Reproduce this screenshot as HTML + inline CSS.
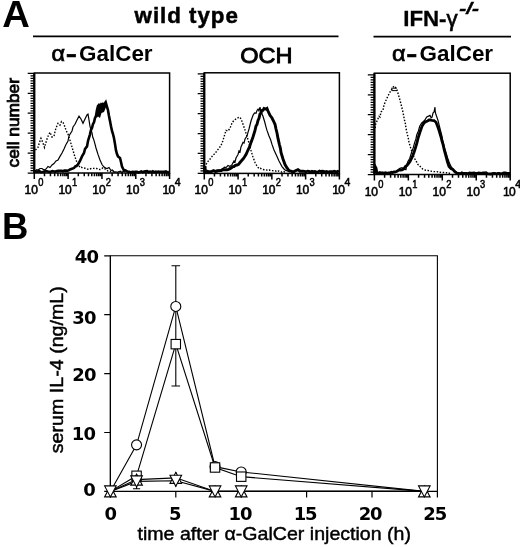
<!DOCTYPE html>
<html><head><meta charset="utf-8"><title>Figure</title>
<style>html,body{margin:0;padding:0;background:#fff}svg{display:block}text{fill:#000}</style>
</head><body>
<svg width="520" height="547" viewBox="0 0 520 547">
<rect width="520" height="547" fill="#fff"/>
<text x="2.2" y="27.1" font-size="36.5" font-weight="bold" text-anchor="start" font-family="Liberation Sans, sans-serif" textLength="27.6" lengthAdjust="spacingAndGlyphs" >A</text>
<text x="2.0" y="239" font-size="36.5" font-weight="bold" text-anchor="start" font-family="Liberation Sans, sans-serif" >B</text>
<line x1="33" y1="36.4" x2="338.5" y2="36.4" stroke="#000" stroke-width="1.8"/>
<line x1="373.5" y1="36.6" x2="511" y2="36.6" stroke="#000" stroke-width="1.8"/>
<text x="134.6" y="22.7" font-size="22.3" font-weight="bold" font-family="Liberation Sans, sans-serif" textLength="103.2" lengthAdjust="spacing" stroke="#000" stroke-width="0.5">wild type</text>
<text x="403.2" y="26.2" font-size="21.5" font-weight="bold" font-family="Liberation Sans, sans-serif" textLength="54.5" lengthAdjust="spacingAndGlyphs" stroke="#000" stroke-width="0.3">IFN-<tspan font-weight="normal" stroke-width="0.6">γ</tspan></text>
<text x="459.3" y="13.8" font-size="17" font-weight="bold" font-style="italic" font-family="Liberation Sans, sans-serif" textLength="19.5" lengthAdjust="spacingAndGlyphs" stroke="#000" stroke-width="0.5">-/-</text>
<text x="51.4" y="61.2" font-size="22" font-family="Liberation Sans, sans-serif" textLength="13.6" lengthAdjust="spacingAndGlyphs" stroke="#000" stroke-width="0.7">α</text>
<text x="66.1" y="61.2" font-size="22" font-weight="bold" font-family="Liberation Sans, sans-serif" textLength="10.6" lengthAdjust="spacingAndGlyphs" stroke="#000" stroke-width="0.7">-</text>
<text x="79.0" y="61.2" font-size="22.3" font-weight="bold" font-family="Liberation Sans, sans-serif" textLength="73.6" lengthAdjust="spacingAndGlyphs">GalCer</text>
<text x="391.90000000000003" y="61.2" font-size="22" font-family="Liberation Sans, sans-serif" textLength="13.6" lengthAdjust="spacingAndGlyphs" stroke="#000" stroke-width="0.7">α</text>
<text x="406.6" y="61.2" font-size="22" font-weight="bold" font-family="Liberation Sans, sans-serif" textLength="10.6" lengthAdjust="spacingAndGlyphs" stroke="#000" stroke-width="0.7">-</text>
<text x="419.5" y="61.2" font-size="22.3" font-weight="bold" font-family="Liberation Sans, sans-serif" textLength="73.6" lengthAdjust="spacingAndGlyphs">GalCer</text>
<text x="240.2" y="63" font-size="22.5" font-weight="normal" text-anchor="start" font-family="Liberation Sans, sans-serif" textLength="52.3" lengthAdjust="spacingAndGlyphs" stroke="#000" stroke-width="0.9">OCH</text>
<rect x="34.3" y="73" width="135.3" height="100" fill="none" stroke="#000" stroke-width="1.5"/>
<path d="M27.70 173.00H34.3 M30.50 170.51H34.3 M30.50 168.02H34.3 M30.50 165.53H34.3 M30.50 163.04H34.3 M30.50 160.55H34.3 M30.50 158.06H34.3 M30.50 155.57H34.3 M27.70 153.08H34.3 M30.50 150.59H34.3 M30.50 148.10H34.3 M30.50 145.61H34.3 M30.50 143.12H34.3 M30.50 140.63H34.3 M30.50 138.14H34.3 M30.50 135.65H34.3 M27.70 133.16H34.3 M30.50 130.67H34.3 M30.50 128.18H34.3 M30.50 125.69H34.3 M30.50 123.20H34.3 M30.50 120.71H34.3 M30.50 118.22H34.3 M30.50 115.73H34.3 M27.70 113.24H34.3 M30.50 110.75H34.3 M30.50 108.26H34.3 M30.50 105.77H34.3 M30.50 103.28H34.3 M30.50 100.79H34.3 M30.50 98.30H34.3 M30.50 95.81H34.3 M27.70 93.32H34.3 M30.50 90.83H34.3 M30.50 88.34H34.3 M30.50 85.85H34.3 M30.50 83.36H34.3 M30.50 80.87H34.3 M30.50 78.38H34.3 M30.50 75.89H34.3 M27.70 73.40H34.3" stroke="#000" stroke-width="1.25" fill="none"/>
<line x1="34.3" y1="73" x2="34.3" y2="173" stroke="#000" stroke-width="2.2"/>
<path d="M34.30 173v6 M44.48 173v3.2 M50.44 173v3.2 M54.66 173v3.2 M57.94 173v3.2 M60.62 173v3.2 M62.89 173v3.2 M64.85 173v3.2 M66.58 173v3.2 M68.12 173v6 M78.31 173v3.2 M84.26 173v3.2 M88.49 173v3.2 M91.77 173v3.2 M94.45 173v3.2 M96.71 173v3.2 M98.67 173v3.2 M100.40 173v3.2 M101.95 173v6 M112.13 173v3.2 M118.09 173v3.2 M122.31 173v3.2 M125.59 173v3.2 M128.27 173v3.2 M130.54 173v3.2 M132.50 173v3.2 M134.23 173v3.2 M135.78 173v6 M145.96 173v3.2 M151.91 173v3.2 M156.14 173v3.2 M159.42 173v3.2 M162.10 173v3.2 M164.36 173v3.2 M166.32 173v3.2 M168.05 173v3.2 M169.60 173v6" stroke="#000" stroke-width="1.5" fill="none"/>
<text x="24.60" y="193.80" font-size="12" font-family="Liberation Sans, sans-serif" stroke="#000" stroke-width="0.55">10<tspan font-size="11.5" dy="-7.8" dx="0.2" textLength="5.2" lengthAdjust="spacingAndGlyphs">0</tspan></text>
<text x="58.42" y="193.80" font-size="12" font-family="Liberation Sans, sans-serif" stroke="#000" stroke-width="0.55">10<tspan font-size="11.5" dy="-7.8" dx="0.2" textLength="5.2" lengthAdjust="spacingAndGlyphs">1</tspan></text>
<text x="92.25" y="193.80" font-size="12" font-family="Liberation Sans, sans-serif" stroke="#000" stroke-width="0.55">10<tspan font-size="11.5" dy="-7.8" dx="0.2" textLength="5.2" lengthAdjust="spacingAndGlyphs">2</tspan></text>
<text x="126.08" y="193.80" font-size="12" font-family="Liberation Sans, sans-serif" stroke="#000" stroke-width="0.55">10<tspan font-size="11.5" dy="-7.8" dx="0.2" textLength="5.2" lengthAdjust="spacingAndGlyphs">3</tspan></text>
<text x="162.50" y="193.80" font-size="12" font-family="Liberation Sans, sans-serif" stroke="#000" stroke-width="0.55" letter-spacing="-0.7">10<tspan font-size="11.5" dy="-7.8" dx="0.2" textLength="5.2" lengthAdjust="spacingAndGlyphs">4</tspan></text>
<polyline points="35.5,150.0 36.6,148.5 38.0,147.4 39.3,143.0 41.0,138.3 43.0,143.0 44.5,147.4 45.7,143.2 47.0,139.0 48.5,135.1 50.0,132.3 52.0,137.0 54.0,136.3 55.0,131.6 56.0,128.0 58.0,123.3 60.0,125.0 61.5,121.5 63.0,122.3 65.0,127.0 66.0,130.3 68.0,134.0 70.0,140.4 71.4,144.9 73.0,150.4 75.0,157.0 77.0,162.5 78.6,164.9 80.0,167.5 81.2,167.2 82.8,168.0 84.0,168.0 85.5,168.3 86.8,169.1 88.4,169.2 90.0,169.0 91.5,168.4 93.4,168.4 95.0,168.5 96.7,168.5 98.3,169.3 100.0,169.5 101.2,169.1 102.6,168.0 104.0,168.0 105.3,169.2 106.7,169.8 108.0,171.0 109.3,171.1 110.9,171.7 112.2,171.2 113.7,171.7 115.0,171.8" fill="none" stroke="#000" stroke-width="1.4" stroke-linejoin="miter" stroke-dasharray="1.5 1.6" />
<polyline points="35.0,171.0 36.7,169.7 38.0,170.0 40.0,168.5 42.0,168.5 44.0,170.0 46.0,169.0 48.0,166.5 50.0,167.5 52.0,165.0 54.0,163.5 56.0,161.0 58.0,160.0 60.0,156.4 62.0,153.0 64.0,149.0 66.0,144.4 68.0,141.0 69.0,136.0 70.0,134.3 72.0,131.0 73.0,127.0 75.0,124.3 77.0,120.0 79.0,116.2 81.0,119.0 83.0,123.3 85.0,119.0 87.0,115.0 88.0,114.2 89.0,120.0 90.0,126.3 92.0,133.0 92.8,137.3 94.0,140.4 95.0,144.2 96.0,148.0 98.0,154.4 100.0,160.0 102.0,164.5 104.0,167.0 105.7,168.1 107.0,168.5 109.0,167.5 111.0,170.5 112.4,170.0 114.3,172.1 116.0,171.8 117.2,172.4 119.1,171.7 120.8,171.3 121.7,172.8 123.5,170.9 125.0,172.0" fill="none" stroke="#000" stroke-width="1.2" stroke-linejoin="miter" />
<polyline points="35.0,171.8 36.3,171.5 37.8,171.6 39.3,171.2 40.9,172.2 42.1,172.0 43.6,171.7 45.0,171.3 46.7,171.3 48.0,171.6 49.6,171.9 50.9,171.8 52.5,171.1 54.1,171.5 55.4,171.6 57.1,171.1 58.4,170.9 60.0,170.8 61.4,170.7 63.1,171.2 64.4,170.6 66.0,170.5 67.4,170.7 68.8,170.3 70.0,169.5 71.3,169.0 72.6,168.6 74.0,168.0 75.3,166.4 76.5,166.0 78.0,164.5 80.0,161.0 82.0,156.4 84.0,153.0 85.0,149.0 87.0,146.4 88.0,141.0 90.0,134.3 91.0,130.0 92.0,128.0 93.0,124.0 94.0,122.3 95.0,118.0 96.0,116.0 97.0,110.0 98.0,106.2 99.0,105.0 100.0,106.0 101.0,104.5 102.0,106.0 103.0,104.0 104.0,104.5 105.0,103.2 105.7,102.2 106.5,105.0 108.0,110.2 109.0,116.0 110.0,121.0 111.0,126.3 112.0,131.0 113.0,134.0 114.0,138.3 115.0,144.0 116.0,150.4 117.0,154.0 118.0,156.4 120.0,158.0 121.0,162.0 122.0,166.5 124.0,170.5 125.4,170.4 126.7,171.1 128.0,171.8 129.4,171.8 130.9,172.4 132.4,171.8 133.9,172.1 135.6,171.8 137.0,171.7 138.4,172.5 140.0,172.0 141.3,171.4 142.9,172.2 144.2,171.6 145.7,171.4 147.2,171.2 148.7,172.2 150.0,171.7 151.6,172.0 152.8,171.2 154.4,172.3 155.9,171.7 157.3,172.0 158.5,171.6 160.0,171.9 161.4,171.8 163.2,171.8 164.3,171.7 165.9,171.4 167.5,172.3 169.0,172.0" fill="none" stroke="#000" stroke-width="2.6" stroke-linejoin="miter" />
<path d="M96.5 118 L97.5 105.5 L100 104 L102 105.5 L103 103.5 L105.7 102 L106.5 106 L104 112 L101.5 113 L100 118 L98 116.5 Z" fill="#000"/>
<rect x="204.3" y="72.8" width="135.09999999999997" height="100.60000000000001" fill="none" stroke="#000" stroke-width="1.5"/>
<path d="M197.70 173.40H204.3 M200.50 170.91H204.3 M200.50 168.42H204.3 M200.50 165.93H204.3 M200.50 163.44H204.3 M200.50 160.95H204.3 M200.50 158.46H204.3 M200.50 155.97H204.3 M197.70 153.48H204.3 M200.50 150.99H204.3 M200.50 148.50H204.3 M200.50 146.01H204.3 M200.50 143.52H204.3 M200.50 141.03H204.3 M200.50 138.54H204.3 M200.50 136.05H204.3 M197.70 133.56H204.3 M200.50 131.07H204.3 M200.50 128.58H204.3 M200.50 126.09H204.3 M200.50 123.60H204.3 M200.50 121.11H204.3 M200.50 118.62H204.3 M200.50 116.13H204.3 M197.70 113.64H204.3 M200.50 111.15H204.3 M200.50 108.66H204.3 M200.50 106.17H204.3 M200.50 103.68H204.3 M200.50 101.19H204.3 M200.50 98.70H204.3 M200.50 96.21H204.3 M197.70 93.72H204.3 M200.50 91.23H204.3 M200.50 88.74H204.3 M200.50 86.25H204.3 M200.50 83.76H204.3 M200.50 81.27H204.3 M200.50 78.78H204.3 M200.50 76.29H204.3 M197.70 73.80H204.3" stroke="#000" stroke-width="1.25" fill="none"/>
<line x1="204.3" y1="72.8" x2="204.3" y2="173.4" stroke="#000" stroke-width="2.2"/>
<path d="M204.30 173.4v6 M214.47 173.4v3.2 M220.41 173.4v3.2 M224.63 173.4v3.2 M227.91 173.4v3.2 M230.58 173.4v3.2 M232.84 173.4v3.2 M234.80 173.4v3.2 M236.53 173.4v3.2 M238.07 173.4v6 M248.24 173.4v3.2 M254.19 173.4v3.2 M258.41 173.4v3.2 M261.68 173.4v3.2 M264.36 173.4v3.2 M266.62 173.4v3.2 M268.58 173.4v3.2 M270.30 173.4v3.2 M271.85 173.4v6 M282.02 173.4v3.2 M287.96 173.4v3.2 M292.18 173.4v3.2 M295.46 173.4v3.2 M298.13 173.4v3.2 M300.39 173.4v3.2 M302.35 173.4v3.2 M304.08 173.4v3.2 M305.62 173.4v6 M315.79 173.4v3.2 M321.74 173.4v3.2 M325.96 173.4v3.2 M329.23 173.4v3.2 M331.91 173.4v3.2 M334.17 173.4v3.2 M336.13 173.4v3.2 M337.85 173.4v3.2 M339.40 173.4v6" stroke="#000" stroke-width="1.5" fill="none"/>
<text x="194.60" y="194.20" font-size="12" font-family="Liberation Sans, sans-serif" stroke="#000" stroke-width="0.55">10<tspan font-size="11.5" dy="-7.8" dx="0.2" textLength="5.2" lengthAdjust="spacingAndGlyphs">0</tspan></text>
<text x="228.38" y="194.20" font-size="12" font-family="Liberation Sans, sans-serif" stroke="#000" stroke-width="0.55">10<tspan font-size="11.5" dy="-7.8" dx="0.2" textLength="5.2" lengthAdjust="spacingAndGlyphs">1</tspan></text>
<text x="262.15" y="194.20" font-size="12" font-family="Liberation Sans, sans-serif" stroke="#000" stroke-width="0.55">10<tspan font-size="11.5" dy="-7.8" dx="0.2" textLength="5.2" lengthAdjust="spacingAndGlyphs">2</tspan></text>
<text x="295.93" y="194.20" font-size="12" font-family="Liberation Sans, sans-serif" stroke="#000" stroke-width="0.55">10<tspan font-size="11.5" dy="-7.8" dx="0.2" textLength="5.2" lengthAdjust="spacingAndGlyphs">3</tspan></text>
<text x="332.30" y="194.20" font-size="12" font-family="Liberation Sans, sans-serif" stroke="#000" stroke-width="0.55" letter-spacing="-0.7">10<tspan font-size="11.5" dy="-7.8" dx="0.2" textLength="5.2" lengthAdjust="spacingAndGlyphs">4</tspan></text>
<polyline points="205.0,170.6 206.0,165.0 207.0,162.5 208.4,160.9 209.5,160.0 210.8,157.8 212.0,156.5 213.2,154.8 214.5,154.0 215.6,152.8 217.0,150.5 219.0,148.5 220.5,146.1 222.0,143.4 224.0,137.0 226.0,130.4 228.0,131.0 230.0,128.3 232.0,123.0 234.0,120.3 235.5,119.3 237.0,118.5 238.6,117.5 240.0,117.3 241.5,120.0 243.0,124.3 245.0,130.0 247.0,136.4 249.0,143.0 249.9,146.3 251.0,150.5 253.0,157.0 255.0,162.5 257.0,166.0 259.0,168.6 260.2,168.3 261.8,169.1 263.0,169.5 264.5,169.7 266.5,169.9 268.0,170.6 269.5,170.1 271.1,170.6 272.6,170.6 274.0,170.8 275.7,171.0 277.3,171.7 278.7,171.0 280.5,171.6 281.9,172.2 283.4,171.4 284.7,172.0 286.0,172.0" fill="none" stroke="#000" stroke-width="1.4" stroke-linejoin="miter" stroke-dasharray="1.5 1.6" />
<polyline points="205.0,171.6 206.7,172.4 207.6,170.5 209.3,171.9 210.5,171.5 212.0,171.0 213.6,171.0 214.8,170.7 216.4,170.1 218.0,170.0 219.6,170.1 220.7,170.2 222.0,169.0 223.2,168.4 224.4,167.1 226.0,167.6 228.0,165.5 230.0,166.5 232.0,164.6 234.0,161.0 235.0,162.0 236.0,158.0 238.0,154.5 239.0,151.0 240.0,152.0 241.0,147.0 243.0,142.4 244.0,143.0 245.0,139.0 247.0,136.0 248.0,132.4 249.0,129.0 250.0,125.0 251.0,121.0 253.0,115.3 254.5,113.0 256.0,113.3 257.0,110.5 258.0,109.2 259.0,111.0 260.0,107.2 261.0,112.0 263.0,116.3 265.0,123.0 265.9,126.6 267.0,130.4 269.0,136.0 270.7,140.0 272.0,144.4 274.0,150.0 275.5,153.3 277.0,156.5 279.0,161.0 280.2,163.3 282.0,166.6 284.0,169.0 286.0,170.6 287.1,170.7 289.0,171.6 290.0,172.0" fill="none" stroke="#000" stroke-width="1.2" stroke-linejoin="miter" />
<polyline points="204.6,172.0 204.8,166.6 205.6,171.6 207.3,171.7 209.0,171.8 210.6,171.7 212.0,171.3 213.6,170.6 215.3,171.6 216.7,171.4 218.3,170.7 220.0,170.6 221.5,170.5 222.9,169.6 224.6,169.7 226.0,169.8 227.2,169.7 228.5,169.4 230.0,168.6 231.2,168.0 232.8,166.6 234.0,166.5 235.4,165.4 237.0,165.0 238.6,164.3 240.0,162.5 241.7,160.5 243.0,159.0 244.6,156.8 246.0,154.5 248.0,150.0 249.5,147.0 251.0,142.4 253.0,137.0 255.0,130.4 256.0,126.0 257.0,124.5 258.0,120.5 259.0,118.3 260.0,114.0 261.0,113.0 262.0,110.5 263.0,110.2 264.0,108.5 266.0,109.2 267.0,108.5 268.0,111.0 270.0,115.3 272.0,118.0 273.5,121.0 275.0,124.3 276.0,129.0 277.0,133.0 278.0,138.4 279.5,145.0 280.4,148.4 281.0,152.5 283.0,159.0 285.0,164.6 287.0,168.0 289.0,170.6 290.8,171.2 292.3,171.7 294.0,171.6 296.0,170.5 298.0,169.6 300.0,171.2 301.4,171.2 302.8,171.1 304.5,171.4 306.0,171.8 307.6,171.2 308.9,171.5 310.5,172.0 312.0,171.4 313.3,171.8 315.0,171.5 316.3,172.1 318.0,171.9 319.4,171.1 320.7,171.6 322.0,171.3 323.7,171.5 325.0,172.0 326.7,171.6 328.4,172.4 329.7,171.6 331.5,171.7 333.0,171.6 334.6,171.2 336.1,172.2 337.7,171.3 339.0,172.0" fill="none" stroke="#000" stroke-width="2.9" stroke-linejoin="miter" />
<rect x="374.4" y="73.2" width="135.8" height="101.3" fill="none" stroke="#000" stroke-width="1.5"/>
<path d="M367.80 174.50H374.4 M370.60 172.01H374.4 M370.60 169.52H374.4 M370.60 167.03H374.4 M370.60 164.54H374.4 M370.60 162.05H374.4 M370.60 159.56H374.4 M370.60 157.07H374.4 M367.80 154.58H374.4 M370.60 152.09H374.4 M370.60 149.60H374.4 M370.60 147.11H374.4 M370.60 144.62H374.4 M370.60 142.13H374.4 M370.60 139.64H374.4 M370.60 137.15H374.4 M367.80 134.66H374.4 M370.60 132.17H374.4 M370.60 129.68H374.4 M370.60 127.19H374.4 M370.60 124.70H374.4 M370.60 122.21H374.4 M370.60 119.72H374.4 M370.60 117.23H374.4 M367.80 114.74H374.4 M370.60 112.25H374.4 M370.60 109.76H374.4 M370.60 107.27H374.4 M370.60 104.78H374.4 M370.60 102.29H374.4 M370.60 99.80H374.4 M370.60 97.31H374.4 M367.80 94.82H374.4 M370.60 92.33H374.4 M370.60 89.84H374.4 M370.60 87.35H374.4 M370.60 84.86H374.4 M370.60 82.37H374.4 M370.60 79.88H374.4 M370.60 77.39H374.4 M367.80 74.90H374.4" stroke="#000" stroke-width="1.25" fill="none"/>
<line x1="374.4" y1="73.2" x2="374.4" y2="174.5" stroke="#000" stroke-width="2.2"/>
<path d="M374.40 174.5v6 M384.62 174.5v3.2 M390.60 174.5v3.2 M394.84 174.5v3.2 M398.13 174.5v3.2 M400.82 174.5v3.2 M403.09 174.5v3.2 M405.06 174.5v3.2 M406.80 174.5v3.2 M408.35 174.5v6 M418.57 174.5v3.2 M424.55 174.5v3.2 M428.79 174.5v3.2 M432.08 174.5v3.2 M434.77 174.5v3.2 M437.04 174.5v3.2 M439.01 174.5v3.2 M440.75 174.5v3.2 M442.30 174.5v6 M452.52 174.5v3.2 M458.50 174.5v3.2 M462.74 174.5v3.2 M466.03 174.5v3.2 M468.72 174.5v3.2 M470.99 174.5v3.2 M472.96 174.5v3.2 M474.70 174.5v3.2 M476.25 174.5v6 M486.47 174.5v3.2 M492.45 174.5v3.2 M496.69 174.5v3.2 M499.98 174.5v3.2 M502.67 174.5v3.2 M504.94 174.5v3.2 M506.91 174.5v3.2 M508.65 174.5v3.2 M510.20 174.5v6" stroke="#000" stroke-width="1.5" fill="none"/>
<text x="364.70" y="195.80" font-size="12" font-family="Liberation Sans, sans-serif" stroke="#000" stroke-width="0.55">10<tspan font-size="11.5" dy="-7.8" dx="0.2" textLength="5.2" lengthAdjust="spacingAndGlyphs">0</tspan></text>
<text x="398.65" y="195.80" font-size="12" font-family="Liberation Sans, sans-serif" stroke="#000" stroke-width="0.55">10<tspan font-size="11.5" dy="-7.8" dx="0.2" textLength="5.2" lengthAdjust="spacingAndGlyphs">1</tspan></text>
<text x="432.60" y="195.80" font-size="12" font-family="Liberation Sans, sans-serif" stroke="#000" stroke-width="0.55">10<tspan font-size="11.5" dy="-7.8" dx="0.2" textLength="5.2" lengthAdjust="spacingAndGlyphs">2</tspan></text>
<text x="466.55" y="195.80" font-size="12" font-family="Liberation Sans, sans-serif" stroke="#000" stroke-width="0.55">10<tspan font-size="11.5" dy="-7.8" dx="0.2" textLength="5.2" lengthAdjust="spacingAndGlyphs">3</tspan></text>
<text x="503.10" y="195.80" font-size="12" font-family="Liberation Sans, sans-serif" stroke="#000" stroke-width="0.55" letter-spacing="-0.7">10<tspan font-size="11.5" dy="-7.8" dx="0.2" textLength="5.2" lengthAdjust="spacingAndGlyphs">4</tspan></text>
<polyline points="375.2,128.0 375.6,124.3 377.0,121.0 379.0,116.3 380.0,117.0 381.0,112.0 383.0,110.2 384.0,105.0 386.0,100.2 388.0,96.0 390.0,92.1 392.0,89.0 394.0,86.1 395.5,87.5 397.0,90.1 398.5,95.0 400.0,100.2 401.5,106.0 403.0,112.3 403.7,116.1 404.5,120.0 405.4,123.8 406.0,128.3 407.5,135.0 408.3,138.2 409.0,142.4 411.0,149.0 413.0,154.5 414.1,157.6 415.5,160.0 416.8,162.4 418.0,164.6 419.5,165.6 421.0,167.5 422.5,168.8 424.0,169.6 425.6,170.2 427.2,170.1 429.0,170.8 430.8,171.1 432.4,171.4 434.0,171.6 435.7,171.7 437.1,171.6 438.9,172.4 440.3,172.3 442.0,172.6 443.3,172.5 444.9,172.6 446.4,172.6 447.5,173.4 449.1,173.1 450.5,173.3" fill="none" stroke="#000" stroke-width="1.4" stroke-linejoin="miter" stroke-dasharray="1.5 1.6" />
<polyline points="376.0,173.2 377.5,172.7 378.9,172.9 380.1,173.3 381.9,172.2 383.0,172.6 384.6,173.9 386.0,173.0 387.6,173.5 389.0,173.1 391.0,173.0 392.5,172.7 394.0,172.6 395.1,172.0 396.7,171.3 398.0,170.0 400.0,168.2 402.0,167.6 404.0,169.5 406.0,169.6 406.7,165.0 407.9,161.4 409.7,158.5 411.7,152.0 413.2,147.9 414.7,142.4 415.9,139.1 416.7,135.0 418.4,131.0 419.7,126.3 421.7,123.0 423.4,121.5 424.7,120.3 426.7,117.0 428.6,116.1 430.0,115.3 431.0,117.5 432.0,117.3 433.0,113.0 434.0,112.0 435.0,107.2 435.2,111.3 435.8,114.0 438.0,120.3 439.6,127.0 440.6,131.0 442.0,136.4 442.8,141.0 443.6,144.0 444.7,148.5 446.0,152.5 447.6,158.0 448.8,161.3 450.1,164.6 451.6,167.5 452.9,168.8 454.1,170.6 455.7,171.6 457.0,172.7 458.1,173.2" fill="none" stroke="#000" stroke-width="1.2" stroke-linejoin="miter" />
<polyline points="374.8,173.5 375.1,170.4 375.2,166.6 376.0,168.0 377.0,173.2 378.3,173.2 379.9,172.6 381.3,173.2 382.7,173.0 384.0,173.2 385.6,172.8 387.0,173.3 388.6,172.9 390.0,172.8 391.4,172.2 392.6,172.6 394.0,172.0 395.4,171.9 396.6,171.5 398.0,170.6 399.6,169.8 401.0,170.0 402.5,169.7 404.0,168.6 405.4,166.6 407.0,165.5 408.4,163.7 410.0,161.5 412.0,157.5 414.0,152.5 416.0,146.0 417.0,142.7 418.0,138.4 420.0,132.0 422.0,126.3 424.0,123.0 425.6,121.8 427.0,121.3 429.0,120.0 430.7,120.0 432.0,120.3 434.0,120.5 436.0,122.3 437.5,126.0 439.0,130.4 441.0,137.0 442.0,141.2 443.0,144.4 444.5,151.0 446.0,156.5 447.5,162.0 449.0,166.6 451.0,168.5 453.0,169.6 455.0,172.0 457.0,173.2 458.7,173.4 460.4,173.6 461.8,172.8 463.3,173.5 465.0,173.4 466.4,173.5 468.0,173.8 469.6,172.9 470.9,173.1 472.4,173.2 474.1,172.9 475.3,173.4 476.8,173.5 478.6,172.9 480.0,173.1 481.4,173.3 483.0,173.0 484.7,172.8 486.0,172.7 487.5,173.6 488.9,173.9 490.6,174.0 492.1,173.6 493.6,173.4 495.0,173.5 496.5,173.8 498.1,173.4 499.4,173.4 500.9,173.8 502.6,173.4 503.8,173.0 505.5,173.0 506.9,173.3 508.7,173.4 510.0,173.4" fill="none" stroke="#000" stroke-width="2.8" stroke-linejoin="miter" />
<path d="M391.2 88.2h5.6M391.5 90.6h5.4" stroke="#000" stroke-width="1"/>
<text transform="translate(19.3,167.5) rotate(-90)" font-size="16" font-family="Liberation Sans, sans-serif" textLength="89.5" lengthAdjust="spacingAndGlyphs" stroke="#000" stroke-width="0.8">cell number</text>
<path d="M110.4 255.80H437.4V491.4H110.4Z" fill="none" stroke="#000" stroke-width="1.1"/>
<line x1="110.4" y1="255.80" x2="110.4" y2="491.4" stroke="#000" stroke-width="1.25"/>
<path d="M104.2 491.40H110.4 M104.2 432.50H110.4 M104.2 373.60H110.4 M104.2 314.70H110.4 M104.2 255.80H110.4 M110.40 491.4v6 M175.80 491.4v6 M241.20 491.4v6 M306.60 491.4v6 M372.00 491.4v6 M437.40 491.4v6" stroke="#000" stroke-width="1.2" fill="none"/>
<text x="95.2" y="496.34999999999997" font-size="18" font-weight="bold" text-anchor="end" font-family="DejaVu Sans, sans-serif" letter-spacing="-0.7">0</text>
<text x="95.3" y="440.05" font-size="18" font-weight="bold" text-anchor="end" font-family="DejaVu Sans, sans-serif" letter-spacing="-0.7">10</text>
<text x="95.9" y="381.15" font-size="18" font-weight="bold" text-anchor="end" font-family="DejaVu Sans, sans-serif" letter-spacing="-0.7">20</text>
<text x="95.9" y="323.55" font-size="18" font-weight="bold" text-anchor="end" font-family="DejaVu Sans, sans-serif" letter-spacing="-0.7">30</text>
<text x="98.3" y="262.95" font-size="18" font-weight="bold" text-anchor="end" font-family="DejaVu Sans, sans-serif" letter-spacing="-0.7">40</text>
<text x="110.10000000000001" y="519.8" font-size="18" font-weight="bold" text-anchor="middle" font-family="DejaVu Sans, sans-serif" letter-spacing="-1.1">0</text>
<text x="174.6" y="519.8" font-size="18" font-weight="bold" text-anchor="middle" font-family="DejaVu Sans, sans-serif" letter-spacing="-1.1">5</text>
<text x="240.0" y="519.8" font-size="18" font-weight="bold" text-anchor="middle" font-family="DejaVu Sans, sans-serif" letter-spacing="-1.1">10</text>
<text x="305.1" y="519.8" font-size="18" font-weight="bold" text-anchor="middle" font-family="DejaVu Sans, sans-serif" letter-spacing="-1.1">15</text>
<text x="370.09999999999997" y="519.8" font-size="18" font-weight="bold" text-anchor="middle" font-family="DejaVu Sans, sans-serif" letter-spacing="-1.1">20</text>
<text x="434.7" y="519.8" font-size="18" font-weight="bold" text-anchor="middle" font-family="DejaVu Sans, sans-serif" letter-spacing="-1.1">25</text>
<text x="137.5" y="539.6" font-size="19" font-weight="normal" text-anchor="start" font-family="Liberation Sans, sans-serif" textLength="273.5" lengthAdjust="spacingAndGlyphs" stroke="#000" stroke-width="0.45">time after α-GalCer injection (h)</text>
<text transform="translate(63.4,453.2) rotate(-90)" font-size="19" font-family="Liberation Sans, sans-serif" textLength="167" lengthAdjust="spacingAndGlyphs" stroke="#000" stroke-width="0.45">serum IL-4 (ng/mL)</text>
<polyline points="110.40,491.40 136.56,444.87 175.80,306.45 215.04,466.66 241.20,471.96 424.32,491.40" fill="none" stroke="#000" stroke-width="1.1"/>
<polyline points="110.40,491.40 136.56,475.79 175.80,344.15 215.04,467.49 241.20,476.67 424.32,491.40" fill="none" stroke="#000" stroke-width="1.1"/>
<polyline points="110.40,491.40 136.56,479.62 175.80,477.85 215.04,491.40 241.20,491.40 424.32,491.40" fill="none" stroke="#000" stroke-width="1.1"/>
<polyline points="110.40,491.40 136.56,481.39 175.80,480.80 215.04,491.40 241.20,491.40 424.32,491.40" fill="none" stroke="#000" stroke-width="1.1"/>
<path d="M175.80 265.81V385.97M171.50 265.81h8.6M171.50 385.97h8.6" stroke="#000" stroke-width="1.1" fill="none"/>
<path d="M136.56 479.62V488.75M132.96 488.75h7.2" stroke="#000" stroke-width="1.1" fill="none"/>
<path d="M175.80 471.96V486.69" stroke="#000" stroke-width="1.1" fill="none"/>
<circle cx="136.56" cy="444.87" r="5" fill="#fff" stroke="#000" stroke-width="1.1"/>
<circle cx="175.80" cy="306.45" r="5" fill="#fff" stroke="#000" stroke-width="1.1"/>
<circle cx="215.04" cy="466.66" r="5" fill="#fff" stroke="#000" stroke-width="1.1"/>
<circle cx="241.20" cy="471.96" r="5" fill="#fff" stroke="#000" stroke-width="1.1"/>
<rect x="131.86" y="471.09" width="9.4" height="9.4" fill="#fff" stroke="#000" stroke-width="1.1"/>
<rect x="171.10" y="339.45" width="9.4" height="9.4" fill="#fff" stroke="#000" stroke-width="1.1"/>
<rect x="210.34" y="462.79" width="9.4" height="9.4" fill="#fff" stroke="#000" stroke-width="1.1"/>
<rect x="236.50" y="471.97" width="9.4" height="9.4" fill="#fff" stroke="#000" stroke-width="1.1"/>
<path d="M110.40 485.90L116.20 496.90H104.60Z" fill="#fff" stroke="#000" stroke-width="1.1"/>
<path d="M110.40 496.90L116.20 485.90H104.60Z" fill="#fff" stroke="#000" stroke-width="1.1"/>
<path d="M136.56 474.12L142.36 485.12H130.76Z" fill="#fff" stroke="#000" stroke-width="1.1"/>
<path d="M136.56 486.89L142.36 475.89H130.76Z" fill="#fff" stroke="#000" stroke-width="1.1"/>
<path d="M175.80 472.35L181.60 483.35H170.00Z" fill="#fff" stroke="#000" stroke-width="1.1"/>
<path d="M175.80 486.30L181.60 475.30H170.00Z" fill="#fff" stroke="#000" stroke-width="1.1"/>
<path d="M215.04 485.90L220.84 496.90H209.24Z" fill="#fff" stroke="#000" stroke-width="1.1"/>
<path d="M215.04 496.90L220.84 485.90H209.24Z" fill="#fff" stroke="#000" stroke-width="1.1"/>
<path d="M241.20 485.90L247.00 496.90H235.40Z" fill="#fff" stroke="#000" stroke-width="1.1"/>
<path d="M241.20 496.90L247.00 485.90H235.40Z" fill="#fff" stroke="#000" stroke-width="1.1"/>
<path d="M424.32 485.90L430.12 496.90H418.52Z" fill="#fff" stroke="#000" stroke-width="1.1"/>
<path d="M424.32 496.90L430.12 485.90H418.52Z" fill="#fff" stroke="#000" stroke-width="1.1"/>
</svg>
</body></html>
